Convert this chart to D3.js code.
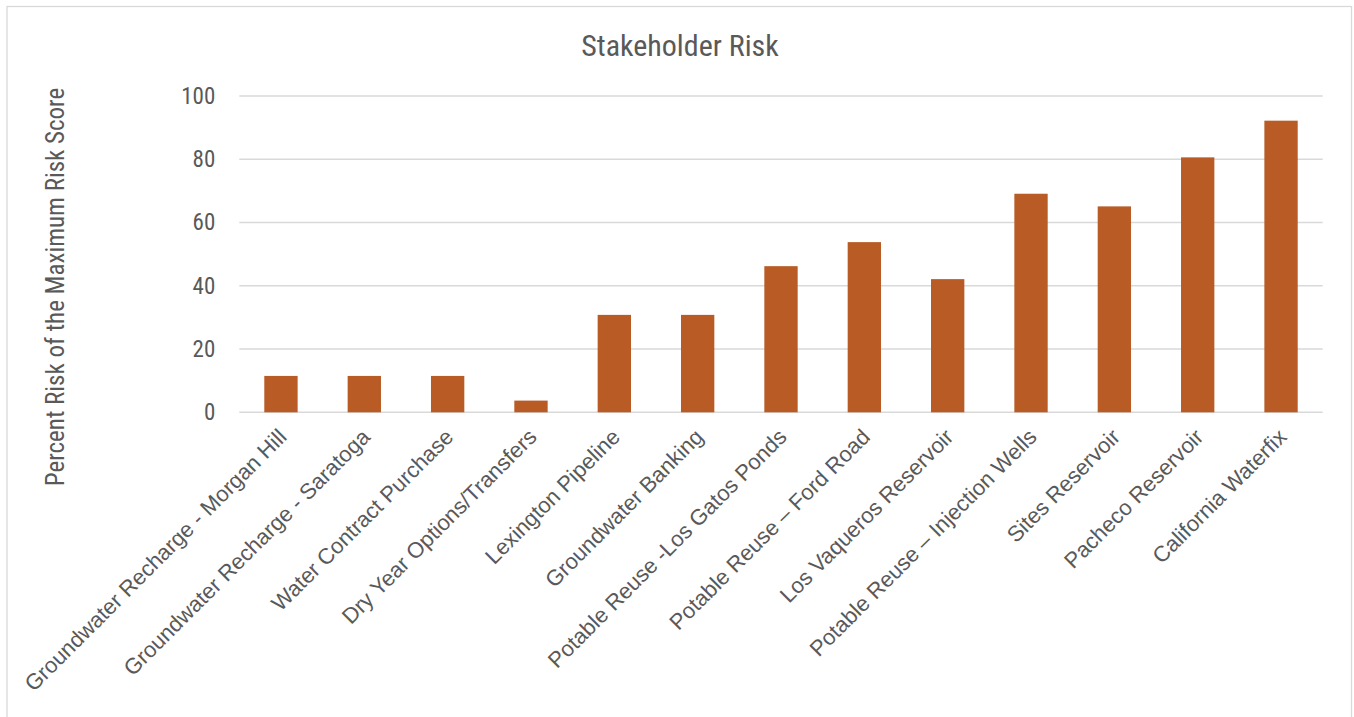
<!DOCTYPE html>
<html><head><meta charset="utf-8">
<script src="https://cdn.jsdelivr.net/npm/d3@7"></script>
<style>
body{margin:0;background:#fff;}
svg{display:block;}
</style></head>
<body>
<svg id="chart" width="1354" height="717"></svg>
<script>
const categories = [
  "Groundwater Recharge - Morgan Hill",
  "Groundwater Recharge - Saratoga",
  "Water Contract Purchase",
  "Dry Year Options/Transfers",
  "Lexington Pipeline",
  "Groundwater Banking",
  "Potable Reuse -Los Gatos Ponds",
  "Potable Reuse \u2013 Ford Road",
  "Los Vaqueros Reservoir",
  "Potable Reuse \u2013 Injection Wells",
  "Sites Reservoir",
  "Pacheco Reservoir",
  "California Waterfix"
];
const values = [11.5, 11.5, 11.5, 3.7, 30.8, 30.8, 46.2, 53.8, 42.1, 69.1, 65.1, 80.6, 92.2];
const yTicks = [0, 20, 40, 60, 80, 100];
const title = "Stakeholder Risk";
const yLabel = "Percent Risk of the Maximum Risk Score";

const svg = d3.select("#chart");
const m = {left: 239.3, right: 1322.7, top: 96, bottom: 412.3};
const narrow = "'Liberation Sans Narrow','Arial Narrow','Roboto Condensed',sans-serif";

svg.append("rect").attr("x", 7).attr("y", 6.5).attr("width", 1344.5).attr("height", 720)
  .attr("fill", "#fff").attr("stroke", "#d9d9d9").attr("stroke-width", 1.3);

const x = d3.scaleBand().domain(categories).range([m.left, m.right]).paddingInner(0.6).paddingOuter(0.3);
const y = d3.scaleLinear().domain([0, 100]).range([m.bottom, m.top]);

// gridlines
svg.append("g").selectAll("line").data(yTicks).join("line")
  .attr("x1", m.left).attr("x2", m.right)
  .attr("y1", d => y(d)).attr("y2", d => y(d))
  .attr("stroke", "#d9d9d9").attr("stroke-width", 1.4);

// y axis
const yAxis = d3.axisLeft(y).tickValues(yTicks).tickSize(0).tickPadding(24);
const gy = svg.append("g").attr("transform", `translate(${m.left},0)`).call(yAxis);
gy.select(".domain").remove();
gy.selectAll("text").attr("fill", "#595959").style("font-family", narrow).style("font-size", "23px");

// bars
svg.append("g").selectAll("rect").data(values).join("rect")
  .attr("x", (d, i) => x(categories[i]))
  .attr("width", x.bandwidth())
  .attr("y", d => y(d))
  .attr("height", d => y(0) - y(d))
  .attr("fill", "#b85b24");

// x axis labels
const xAxis = d3.axisBottom(x).tickSize(0).tickPadding(0);
const gx = svg.append("g").attr("transform", `translate(0,${m.bottom})`).call(xAxis);
gx.select(".domain").remove();
gx.selectAll("text")
  .attr("fill", "#595959")
  .style("font-family", "'Liberation Sans',Arial,sans-serif")
  .style("font-size", "22px")
  .attr("text-anchor", "end")
  .attr("dy", "0")
  .attr("transform", "translate(7,26) rotate(-45)");

// title
svg.append("text").attr("x", 680).attr("y", 56).attr("text-anchor", "middle")
  .attr("fill", "#595959").style("font-family", narrow).style("font-size", "30px").text(title);

// y label
svg.append("text").attr("transform", `translate(64,287) rotate(-90)`).attr("text-anchor", "middle")
  .attr("fill", "#595959").style("font-family", narrow).style("font-size", "25px").text(yLabel);
</script>
</body></html>
